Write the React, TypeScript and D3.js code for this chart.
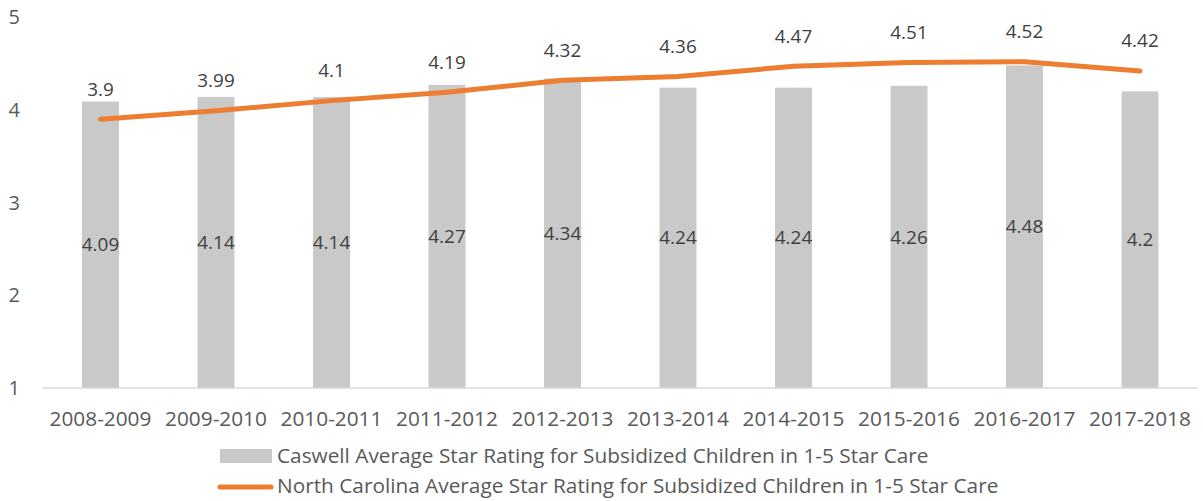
import React from "react";
import * as d3 from "d3";

const categories = ["2008-2009", "2009-2010", "2010-2011", "2011-2012", "2012-2013", "2013-2014", "2014-2015", "2015-2016", "2016-2017", "2017-2018"];
const caswellValues = [4.09, 4.14, 4.14, 4.27, 4.34, 4.24, 4.24, 4.26, 4.48, 4.2];
const ncValues = [3.9, 3.99, 4.1, 4.19, 4.32, 4.36, 4.47, 4.51, 4.52, 4.42];
const yTicks = [1, 2, 3, 4, 5];
const seriesNames = [
  "Caswell Average Star Rating for Subsidized Children in 1-5 Star Care",
  "North Carolina Average Star Rating for Subsidized Children in 1-5 Star Care",
];

const W = 1203;
const H = 501;
const TEXT = "#595959";
const LABEL = "#404040";
const BAR = "#C9C9C9";
const LINE = "#ED7D31";
const FONT = "'Open Sans', sans-serif";

export default function App() {
  const x = d3.scaleBand<string>().domain(categories).range([42.75, 1197.75]).paddingInner(0.68).paddingOuter(0.34);
  const y = d3.scaleLinear().domain([1, 5]).range([388, 17.2]);
  const cx = (c: string) => (x(c) as number) + x.bandwidth() / 2;
  const line = d3
    .line<number>()
    .x((_, i) => cx(categories[i]))
    .y((d) => y(d));

  return (
    <svg width={W} height={H} style={{ position: "absolute", left: 0, top: 0, background: "#fff" }} fontFamily={FONT}>
      {yTicks.map((t) => (
        <text key={t} x={20} y={y(t)} dy="0.35em" textAnchor="end" fontSize={20} fill={TEXT}>
          {t}
        </text>
      ))}
      {categories.map((c, i) => {
        const top = y(caswellValues[i]);
        return (
          <g key={c}>
            <rect x={x(c)} y={top} width={x.bandwidth()} height={y(1) - top} fill={BAR} />
            <text x={cx(c)} y={(top + y(1)) / 2} dy="0.35em" textAnchor="middle" fontSize={18.9} fill={LABEL}>
              {caswellValues[i]}
            </text>
          </g>
        );
      })}
      <line x1={42.75} x2={1197.75} y1={y(1)} y2={y(1)} stroke="#D9D9D9" strokeWidth={1.5} />
      <path d={line(ncValues) || ""} fill="none" stroke={LINE} strokeWidth={5} strokeLinecap="round" strokeLinejoin="round" />
      {ncValues.map((v, i) => (
        <text key={i} x={cx(categories[i])} y={y(v) - 23.5} textAnchor="middle" fontSize={18.9} fill={LABEL}>
          {v}
        </text>
      ))}
      {categories.map((c) => (
        <text key={c} x={cx(c)} y={426} textAnchor="middle" fontSize={20.8} fill={TEXT}>
          {c}
        </text>
      ))}
      <rect x={220} y={449} width={52} height={14} fill={BAR} />
      <text x={277} y={463} fontSize={20.8} fill={TEXT}>
        {seriesNames[0]}
      </text>
      <line x1={220} x2={271} y1={487} y2={487} stroke={LINE} strokeWidth={5} strokeLinecap="round" />
      <text x={277} y={493} fontSize={20.8} fill={TEXT}>
        {seriesNames[1]}
      </text>
    </svg>
  );
}
